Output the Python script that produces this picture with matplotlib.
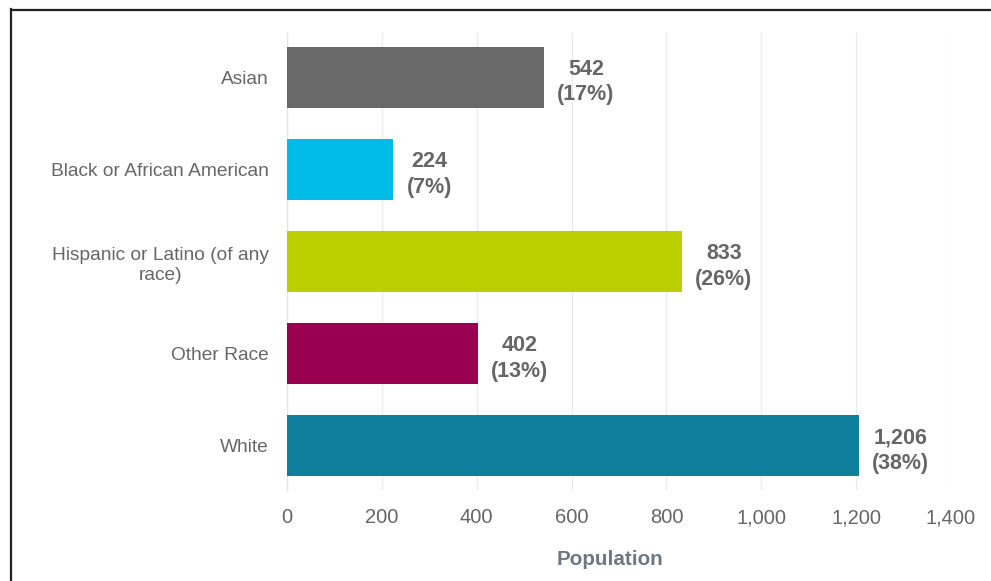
import matplotlib
matplotlib.use("Agg")
import matplotlib.pyplot as plt
from matplotlib.lines import Line2D

categories = ["Asian", "Black or African American", "Hispanic or Latino (of any\nrace)", "Other Race", "White"]
values = [542, 224, 833, 402, 1206]
percents = ["17%", "7%", "26%", "13%", "38%"]
colors = ["#696969", "#00BCE6", "#BCCF00", "#990050", "#0E809E"]
xticks = [0, 200, 400, 600, 800, 1000, 1200, 1400]
xtick_labels = ["0", "200", "400", "600", "800", "1,000", "1,200", "1,400"]

plt.rcParams['font.family'] = ['Liberation Sans', 'DejaVu Sans']

W, H = 991, 581
fig = plt.figure(figsize=(W / 100, H / 100), dpi=100)
ax = fig.add_axes([287 / W, 1 - 490 / H, (951 - 287) / W, (490 - 33) / H])

y = list(range(len(categories)))
ax.barh(y, values, height=0.66, color=colors, zorder=3)
ax.set_ylim(4.48, -0.48)
ax.set_xlim(0, 1400)

ax.set_xticks(xticks)
ax.set_xticklabels(xtick_labels, fontsize=14.5, color="#666666")
ax.set_yticks(y)
ax.set_yticklabels(categories, fontsize=13.8, color="#666666", multialignment="center", linespacing=1.25)
ax.tick_params(axis="x", length=0, pad=13)
ax.tick_params(axis="y", length=0, pad=13)

ax.grid(axis="x", color="#ebebeb", linewidth=1.0, zorder=0)
for s in ["top", "right", "bottom"]:
    ax.spines[s].set_visible(False)
ax.spines["left"].set_color("#e6e6e6")
ax.spines["left"].set_linewidth(1.0)

for i, (v, p) in enumerate(zip(values, percents)):
    ax.annotate(f"{v:,}\n({p})", xy=(v, i), xytext=(9.5, -3.5), textcoords="offset points",
                ha="left", va="center", multialignment="center",
                fontsize=15.5, fontweight="bold", color="#666666", linespacing=1.3)

ax.set_xlabel("Population", fontsize=14.9, fontweight="bold", color="#6F7780")
ax.xaxis.set_label_coords((609.5 - 287) / (951 - 287), -(550 - 490) / (490 - 33))

# outer frame (top and left edges)
fig.add_artist(Line2D([11 / W, 11 / W], [1 - 9 / H, 0], transform=fig.transFigure, color="#222222", linewidth=1.6))
fig.add_artist(Line2D([11 / W, 1], [1 - 9.5 / H, 1 - 9.5 / H], transform=fig.transFigure, color="#222222", linewidth=1.6))

fig.savefig("out.png", dpi=100)
